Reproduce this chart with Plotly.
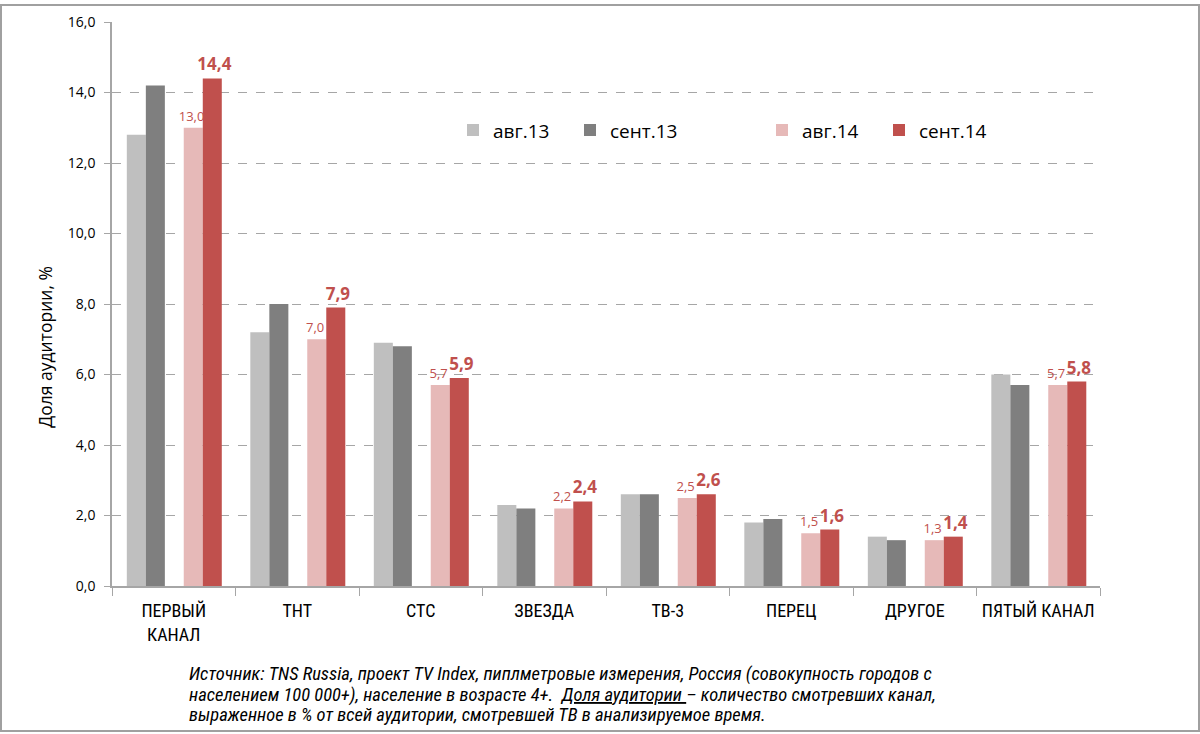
import plotly.graph_objects as go

categories = ["ПЕРВЫЙ<br>КАНАЛ", "ТНТ", "СТС", "ЗВЕЗДА", "ТВ-3", "ПЕРЕЦ", "ДРУГОЕ", "ПЯТЫЙ КАНАЛ"]
aug13 = [12.8, 7.2, 6.9, 2.3, 2.6, 1.8, 1.4, 6.0]
sep13 = [14.2, 8.0, 6.8, 2.2, 2.6, 1.9, 1.3, 5.7]
aug14 = [13.0, 7.0, 5.7, 2.2, 2.5, 1.5, 1.3, 5.7]
sep14 = [14.4, 7.9, 5.9, 2.4, 2.6, 1.6, 1.4, 5.8]
series_names = ["авг.13", "сент.13", "авг.14", "сент.14"]
y_ticks = [0, 2, 4, 6, 8, 10, 12, 14, 16]
y_title = "Доля аудитории, %"
footnote_lines = [
    "<i>Источник: TNS Russia, проект TV Index, пиплметровые измерения, Россия (совокупность городов с</i>",
    "<i>населением 100 000+), население в возрасте 4+.  <u>Доля аудитории </u>– количество смотревших канал,</i>",
    "<i>выраженное в % от всей аудитории, смотревшей ТВ в анализируемое время.</i>",
]

W, H = 1200, 734
L, R, T, B = 112, 100, 18, 148
pw, ph = W - L - R, H - T - B

colors = ["#BFBFBF", "#7F7F7F", "#E6B9B8", "#C0504D"]
bw = 0.154
offsets = [-0.38, -0.226, 0.081, 0.235]
fontc = "Liberation Sans Narrow, Arial Narrow, Roboto Condensed, sans-serif"
font = "Open Sans, Noto Sans, sans-serif"

fig = go.Figure()
data = [aug13, sep13, aug14, sep14]
for i, (name, vals) in enumerate(zip(series_names, data)):
    kw = {}
    if i == 2:
        kw = dict(texttemplate="%{y:.1f}\u00a0", textposition="outside", constraintext="none",
                  textfont=dict(color="#C0504D", size=13, family=font))
    elif i == 3:
        kw = dict(texttemplate="\u00a0<b>%{y:.1f}</b>", textposition="outside", constraintext="none",
                  textfont=dict(color="#C0504D", size=17, family=font))
    fig.add_trace(go.Bar(
        x=categories, y=vals, name=name, marker=dict(color=colors[i], line=dict(width=0)),
        width=bw, offset=offsets[i], cliponaxis=False,
        legend="legend" if i < 2 else "legend2", **kw))

fig.update_layout(
    width=W, height=H, margin=dict(l=L, r=R, t=T, b=B),
    paper_bgcolor="white", plot_bgcolor="white",
    separators=", ", barmode="overlay",
    font=dict(family=font, color="#000000"),
    legend=dict(orientation="h", x=(453 - L) / pw, y=1 - (127 - T) / ph, yanchor="middle",
                xanchor="left", font=dict(size=19, family=font), bgcolor="rgba(0,0,0,0)",
                entrywidth=72, itemwidth=30, tracegroupgap=0),
    legend2=dict(orientation="h", x=(762 - L) / pw, y=1 - (127 - T) / ph, yanchor="middle",
                 xanchor="left", font=dict(size=19, family=font), bgcolor="rgba(0,0,0,0)",
                 entrywidth=72, itemwidth=30, tracegroupgap=0),
    showlegend=True,
)
fig.update_xaxes(
    type="category", showline=True, linecolor="#A6A6A6", linewidth=1.5,
    tickson="boundaries", ticks="outside", ticklen=8, tickcolor="#A6A6A6",
    tickfont=dict(size=18, family=fontc), ticklabelstandoff=8, tickangle=0,
    showgrid=False, range=[-0.5, 7.5],
)
fig.update_yaxes(
    range=[0, 16], tickvals=y_ticks, tickformat=".1f",
    showline=True, linecolor="#A6A6A6", linewidth=1.5,
    ticks="outside", ticklen=6, tickcolor="#A6A6A6",
    showgrid=True, gridcolor="#A6A6A6", griddash="dash", gridwidth=1,
    tickfont=dict(size=14, family=font), ticklabelstandoff=6,
    zeroline=False,
)

# y-axis title placed as in the reference (slightly below centre)
fig.add_annotation(
    xref="paper", yref="paper", x=-(L - 45) / pw, y=1 - (345 - T) / ph,
    xanchor="center", yanchor="middle", textangle=-90, showarrow=False,
    text=y_title, font=dict(size=17.5, family=font, color="#000000"),
)

for k, (line, ypx) in enumerate(zip(footnote_lines, [675, 696, 716])):
    fig.add_annotation(
        xref="paper", yref="paper", x=(187 - L) / pw, y=-(ypx - (H - B)) / ph,
        xanchor="left", yanchor="middle", align="left", showarrow=False,
        text=line, font=dict(size=18.5, family=fontc, color="#000000"),
    )

fig.add_shape(type="rect", xref="paper", yref="paper",
              x0=-(L - 1) / pw, x1=1 + (R - 1) / pw, y0=-(B - 2) / ph, y1=1 + (T - 1) / ph,
              line=dict(color="#A0A0A0", width=2), fillcolor="rgba(0,0,0,0)", layer="below")

fig.write_html("out.html", config={"displayModeBar": False},
               post_script="document.body.style.margin='0px';document.body.style.padding='0px';")
